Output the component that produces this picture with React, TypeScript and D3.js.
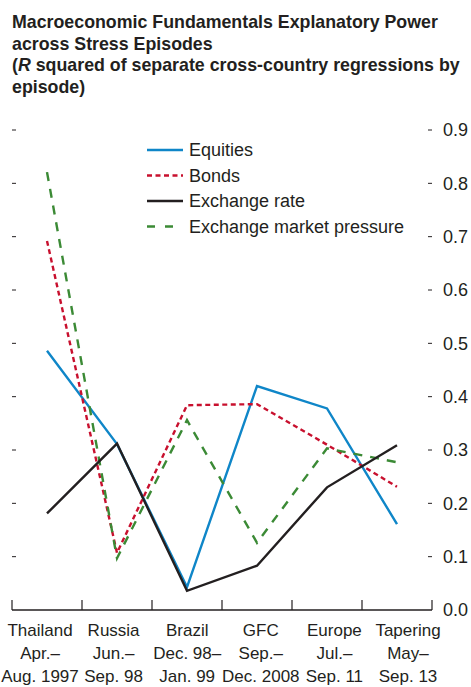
import React from "react";
import * as d3 from "d3";

const categories = ["Thailand", "Russia", "Brazil", "GFC", "Europe", "Tapering"];
const categoryLines: string[][] = [
  ["Thailand", "Apr.–", "Aug. 1997"],
  ["Russia", "Jun.–", "Sep. 98"],
  ["Brazil", "Dec. 98–", "Jan. 99"],
  ["GFC", "Sep.–", "Dec. 2008"],
  ["Europe", "Jul.–", "Sep. 11"],
  ["Tapering", "May–", "Sep. 13"],
];
const equities = [0.486, 0.311, 0.043, 0.42, 0.378, 0.161];
const bonds = [0.692, 0.107, 0.384, 0.386, 0.31, 0.231];
const exchangeRate = [0.181, 0.312, 0.036, 0.083, 0.23, 0.309];
const exchangeMarketPressure = [0.821, 0.097, 0.356, 0.126, 0.303, 0.277];
const yTicks = [0, 0.1, 0.2, 0.3, 0.4, 0.5, 0.6, 0.7, 0.8, 0.9];
const titleLines = [
  "Macroeconomic Fundamentals Explanatory Power",
  "across Stress Episodes",
];

const series = [
  { name: "Equities", values: equities, color: "#0f86c8", dash: "none" },
  { name: "Bonds", values: bonds, color: "#c8102e", dash: "5,3.5" },
  { name: "Exchange market pressure", values: exchangeMarketPressure, color: "#3b8a35", dash: "9,8" },
  { name: "Exchange rate", values: exchangeRate, color: "#231f20", dash: "none" },
];
const legendOrder = ["Equities", "Bonds", "Exchange rate", "Exchange market pressure"];

const W = 471;
const H = 687;
const FONT = "'Liberation Sans', Arial, sans-serif";
const TXT = "#231f20";

export default function App() {
  const x = d3.scaleBand<string>().domain(categories).range([12, 432]).padding(0);
  const labelX = d3.scalePoint<string>().domain(categories).range([40, 408]);
  const y = d3.scaleLinear().domain([0, 0.9]).range([610, 130]);
  const cx = (c: string) => (x(c) as number) + x.bandwidth() / 2;
  const line = d3
    .line<number>()
    .x((_, i) => cx(categories[i]))
    .y((v) => y(v));

  const boundaries = [...categories.map((c) => x(c) as number), x.range()[1]];

  return (
    <svg
      width={W}
      height={H}
      style={{ position: "absolute", left: 0, top: 0, background: "#fff" }}
      fontFamily={FONT}
    >
      {/* Title */}
      <g fill={TXT} fontWeight="bold" fontSize={17.8}>
        <text x={12} y={28}>{titleLines[0]}</text>
        <text x={12} y={49.5}>{titleLines[1]}</text>
        <text x={12} y={71}>
          (<tspan fontStyle="italic">R</tspan> squared of separate cross-country regressions by
        </text>
        <text x={12} y={92.5}>episode)</text>
      </g>

      {/* y ticks */}
      {yTicks.map((t) => (
        <g key={t}>
          {t > 0 && (
            <line x1={12} x2={16} y1={y(t)} y2={y(t)} stroke={TXT} strokeWidth={1} />
          )}
          {t > 0 && (
            <line x1={428} x2={432} y1={y(t)} y2={y(t)} stroke={TXT} strokeWidth={1} />
          )}
          <text x={443} y={y(t) + 6.3} fontSize={18} fill={TXT}>
            {d3.format(".1f")(t)}
          </text>
        </g>
      ))}

      {/* Series */}
      {series.map((s) => (
        <path
          key={s.name}
          d={line(s.values) as string}
          fill="none"
          stroke={s.color}
          strokeWidth={2.4}
          strokeDasharray={s.dash}
          strokeLinejoin="miter"
        />
      ))}

      {/* x axis */}
      <line x1={x.range()[0]} x2={x.range()[1]} y1={y(0)} y2={y(0)} stroke={TXT} strokeWidth={1.6} />
      {boundaries.map((b, i) => (
        <line key={i} x1={b} x2={b} y1={y(0)} y2={y(0) - 10} stroke={TXT} strokeWidth={1.2} />
      ))}
      {categories.map((c, i) => (
        <g key={c} fontSize={17} fill={TXT} textAnchor="middle">
          {categoryLines[i].map((l, j) => (
            <text key={j} x={labelX(c)} y={636 + j * 23}>
              {l}
            </text>
          ))}
        </g>
      ))}

      {/* Legend */}
      {legendOrder.map((name, i) => {
        const s = series.find((q) => q.name === name)!;
        const ly = 150 + i * 25.5;
        return (
          <g key={name}>
            <line x1={147} x2={183} y1={ly} y2={ly} stroke={s.color} strokeWidth={2.4} strokeDasharray={s.name === "Exchange market pressure" ? "8,10" : s.dash} />
            <text x={189} y={ly + 6.3} fontSize={18} fill={TXT}>
              {name}
            </text>
          </g>
        );
      })}
    </svg>
  );
}
